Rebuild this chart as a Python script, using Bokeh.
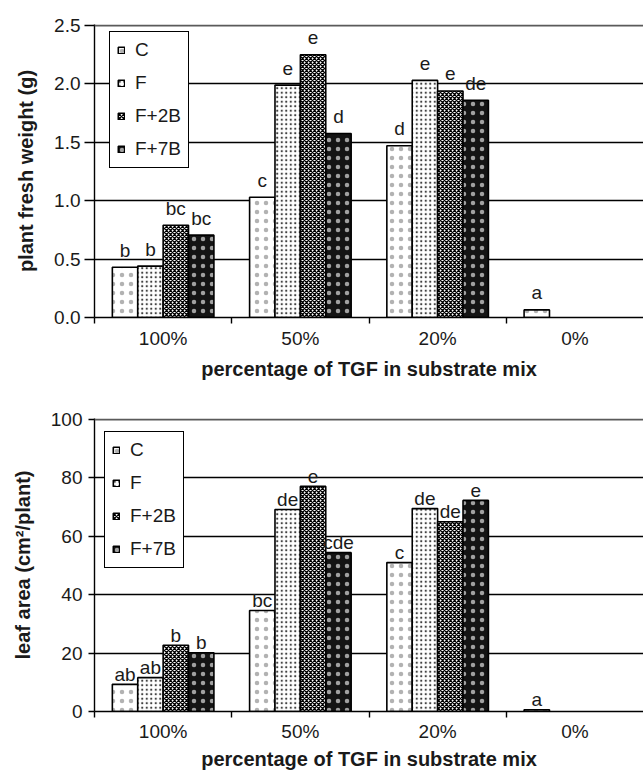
from bokeh.plotting import figure
from bokeh.models import (FixedTicker, Legend, LegendItem, ColumnDataSource, Span, Range1d,
                          PrintfTickFormatter)
from bokeh.layouts import column
from bokeh.embed import file_html
from bokeh.resources import INLINE
from bokeh.core.properties import value

# ---------------- data ----------------
categories = ["100%", "50%", "20%", "0%"]
series = ["C", "F", "F+2B", "F+7B"]

# plant fresh weight (g); None = no bar
fw_C = [0.43, 1.03, 1.47, 0.065]
fw_F = [0.44, 1.99, 2.03, None]
fw_F2B = [0.79, 2.25, 1.94, None]
fw_F7B = [0.705, 1.575, 1.86, None]
fw_let_C = ["b", "c", "d", "a"]
fw_let_F = ["b", "e", "e", ""]
fw_let_F2B = ["bc", "e", "e", ""]
fw_let_F7B = ["bc", "d", "de", ""]

# leaf area (cm2/plant)
la_C = [9.3, 34.6, 51.0, 0.6]
la_F = [11.6, 69.2, 69.5, None]
la_F2B = [22.7, 77.1, 65.0, None]
la_F7B = [20.1, 54.4, 72.3, None]
la_let_C = ["ab", "bc", "c", "a"]
la_let_F = ["ab", "de", "de", ""]
la_let_F2B = ["b", "e", "de", ""]
la_let_F7B = ["b", "cde", "e", ""]

fw_ticks = [0.0, 0.5, 1.0, 1.5, 2.0, 2.5]
la_ticks = [0, 20, 40, 60, 80, 100]

# ---------------- styling ----------------
FONT = "Liberation Sans"
TXT = "#1a1a1a"

styles = {
    "C": dict(fill_color="white", hatch_pattern="dot", hatch_color="black", hatch_scale=9,
              hatch_weight=0.5, hatch_alpha=0.3),
    "F": dict(fill_color="white", hatch_pattern="dot", hatch_color="black", hatch_scale=4.5,
              hatch_weight=0.4, hatch_alpha=0.75),
    "F+2B": dict(fill_color="white", hatch_pattern="diagonal_cross", hatch_color="black",
                 hatch_scale=4, hatch_weight=1.25, hatch_alpha=1.0),
    "F+7B": dict(fill_color="#141414", hatch_pattern="dot", hatch_color="white", hatch_scale=9,
                 hatch_weight=0.4, hatch_alpha=0.6),
}


def make_chart(vals, lets, ticks, fmt, ylabel, height, mbl, mbt, mbb, lab_off, leg_loc,
               ytick_out, ystand, xstand, xlstand):
    ymax = ticks[-1]
    p = figure(width=643, height=height, x_range=Range1d(0, len(categories)),
               y_range=Range1d(0, ymax * 1.0035),
               output_backend="svg", toolbar_location=None,
               min_border_left=mbl, min_border_top=mbt, min_border_bottom=mbb, min_border_right=0)
    p.outline_line_color = None
    p.background_fill_color = "white"
    p.xgrid.visible = False
    p.ygrid.ticker = FixedTicker(ticks=ticks[1:-1])
    p.ygrid.grid_line_color = "black"
    p.ygrid.grid_line_width = 1.6
    p.add_layout(Span(location=ymax, dimension="width", line_color="#5a5a5a", line_width=2))

    offsets = [-0.2775, -0.0925, 0.0925, 0.2775]
    bw = 0.185
    items = []
    for k, s in enumerate(series):
        xs, tops, labs = [], [], []
        for i, v in enumerate(vals[k]):
            if v is None:
                continue
            xs.append(i + 0.5 + offsets[k])
            tops.append(v)
            labs.append(lets[k][i])
        src = ColumnDataSource(dict(x=xs, top=tops, lab=labs))
        r = p.vbar(x="x", top="top", bottom=0, width=bw, source=src,
                   line_color="black", line_width=1.6, **styles[s])
        p.text(x="x", y="top", text="lab", source=src, text_font=value(FONT),
               text_font_size="19px", text_color=TXT, text_align="center",
               text_baseline="alphabetic", y_offset=-lab_off)
        items.append(LegendItem(label=s, renderers=[r]))

    # x axis: labels at category centres, ticks at boundaries
    xa = p.xaxis[0]
    xa.ticker = FixedTicker(ticks=[i + 0.5 for i in range(len(categories))],
                            minor_ticks=list(range(len(categories))))
    xa.major_label_overrides = {i + 0.5: c for i, c in enumerate(categories)}
    xa.major_tick_out = 0
    xa.major_tick_in = 0
    xa.minor_tick_out = 6
    xa.minor_tick_in = 0
    xa.minor_tick_line_color = "black"
    xa.minor_tick_line_width = 1.4
    xa.axis_line_color = "black"
    xa.axis_line_width = 1.4
    xa.major_label_text_font = FONT
    xa.major_label_text_font_size = "19px"
    xa.major_label_text_color = TXT
    xa.major_label_standoff = xstand
    xa.axis_label = "percentage of TGF in substrate mix"
    xa.axis_label_text_font = FONT
    xa.axis_label_text_font_size = "20px"
    xa.axis_label_text_font_style = "bold"
    xa.axis_label_text_color = TXT
    xa.axis_label_standoff = xlstand

    ya = p.yaxis[0]
    ya.ticker = FixedTicker(ticks=ticks)
    if fmt:
        ya.formatter = PrintfTickFormatter(format=fmt)
    ya.major_tick_out = ytick_out
    ya.major_tick_in = 0
    ya.minor_tick_out = 0
    ya.minor_tick_in = 0
    ya.major_tick_line_color = "black"
    ya.major_tick_line_width = 1.4
    ya.axis_line_color = "black"
    ya.axis_line_width = 1.4
    ya.major_label_text_font = FONT
    ya.major_label_text_font_size = "19px"
    ya.major_label_text_color = TXT
    ya.major_label_standoff = ystand
    ya.axis_label = ylabel
    ya.axis_label_text_font = FONT
    ya.axis_label_text_font_size = "20px"
    ya.axis_label_text_font_style = "bold"
    ya.axis_label_text_color = TXT
    ya.axis_label_standoff = 14

    leg = Legend(items=items, location=leg_loc, orientation="vertical",
                 label_text_font=FONT, label_text_font_size="19px", label_text_color=TXT,
                 glyph_width=8, glyph_height=8, label_height=22, spacing=11, padding=7,
                 label_standoff=10, border_line_color="black", border_line_width=1,
                 border_line_alpha=1.0,
                 background_fill_color="white", background_fill_alpha=1, margin=0)
    p.add_layout(leg)
    return p


p1 = make_chart([fw_C, fw_F, fw_F2B, fw_F7B], [fw_let_C, fw_let_F, fw_let_F2B, fw_let_F7B],
                fw_ticks, "%.1f", "plant fresh weight (g)", 390, 89, 24, 73, 17, (15, 149),
                10, 4, 4, 6)
p2 = make_chart([la_C, la_F, la_F2B, la_F7B], [la_let_C, la_let_F, la_let_F2B, la_let_F7B],
                la_ticks, None, "leaf area (cm²/plant)", 382, 94, 28, 60, 10, (10, 143),
                6, 6, 3, 3)

layout = column(p1, p2)
open("out.html", "w").write(file_html(layout, INLINE))
